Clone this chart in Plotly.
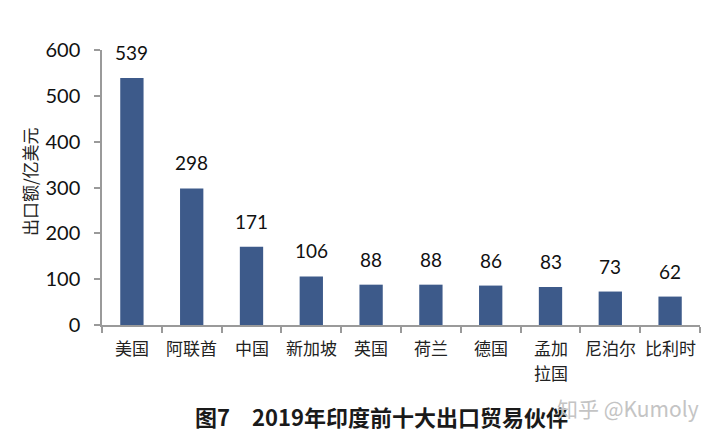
import plotly.graph_objects as go

categories = ["美国", "阿联酋", "中国", "新加坡", "英国", "荷兰", "德国", "孟加拉国", "尼泊尔", "比利时"]
tick_lines = [["美国"], ["阿联酋"], ["中国"], ["新加坡"], ["英国"], ["荷兰"], ["德国"], ["孟加", "拉国"], ["尼泊尔"], ["比利时"]]
values = [539, 298, 171, 106, 88, 88, 86, 83, 73, 62]
y_ticks = [0, 100, 200, 300, 400, 500, 600]

bar_color = "#3D5A8A"
num_font = "Lato, 'Open Sans', sans-serif"
cjk_font = "'Noto Sans CJK SC', sans-serif"

fig = go.Figure()
fig.add_trace(go.Bar(
    x=categories, y=values,
    marker=dict(color=bar_color, line=dict(width=0)),
    width=0.39,
))

annotations = []
for c, v in zip(categories, values):
    annotations.append(dict(
        x=c, y=v, xref="x", yref="y", text=str(v), showarrow=False,
        yanchor="bottom", yshift=12,
        font=dict(family=num_font, size=19, color="#111111"),
    ))

for c, lines in zip(categories, tick_lines):
    for i, line in enumerate(lines):
        annotations.append(dict(
            x=c, y=0, xref="x", yref="paper", text=line, showarrow=False,
            xanchor="center", yanchor="middle", yshift=-22 - 25 * i,
            font=dict(family=cjk_font, size=17, color="#222222"),
        ))

annotations.append(dict(
    xref="paper", yref="paper", x=-0.122, y=0.52, text="出口额/亿美元",
    textangle=-90, showarrow=False, xanchor="center", yanchor="middle",
    font=dict(family=cjk_font, size=17, color="#222222"),
))
annotations.append(dict(
    xref="paper", yref="paper", x=0.468, y=-0.331,
    text="<b>图7　2019年印度前十大出口贸易伙伴</b>",
    showarrow=False, xanchor="center", yanchor="middle",
    font=dict(family=cjk_font, size=22, color="#1a1a1a"),
))
annotations.append(dict(
    xref="paper", yref="paper", x=0.88, y=-0.302,
    text="知乎 @Kumoly",
    showarrow=False, xanchor="center", yanchor="middle",
    font=dict(family=cjk_font, size=21, color="#c4c4c4"),
))

fig.update_layout(
    width=720, height=441,
    margin=dict(l=94, r=28, t=42, b=124, autoexpand=False),
    paper_bgcolor="white", plot_bgcolor="white",
    showlegend=False,
    annotations=annotations,
)
fig.update_xaxes(
    showline=True, linecolor="#9a9a9a", linewidth=1.5,
    ticks="outside", tickson="boundaries", ticklen=6, tickcolor="#9a9a9a", tickwidth=1.5,
    showticklabels=False, automargin=False,
    showgrid=False, fixedrange=True,
)
fig.update_yaxes(
    range=[0, 600], tickvals=y_ticks,
    showline=True, linecolor="#9a9a9a", linewidth=1.5,
    ticks="outside", ticklen=6, tickcolor="#9a9a9a", tickwidth=1.5,
    tickfont=dict(family=num_font, size=20, color="#111111"),
    ticklabelstandoff=10, automargin=False,
    showgrid=False, zeroline=False,
)

fig.write_html("out.html")
